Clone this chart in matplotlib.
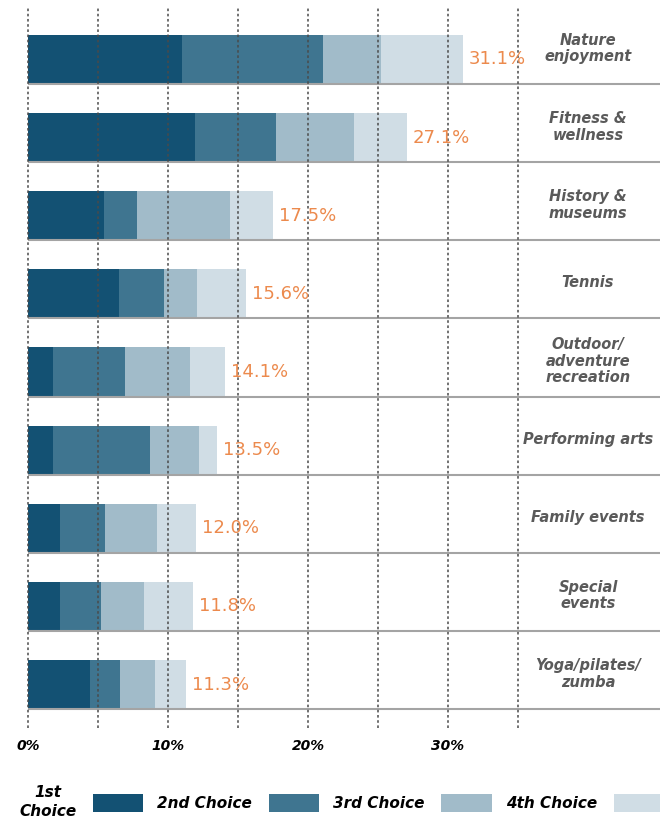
import matplotlib
matplotlib.use("Agg")
import matplotlib.pyplot as plt
from matplotlib.patches import Patch

# Activity interest, share of respondents by ranked choice
categories = [
    "Nature\nenjoyment",
    "Fitness &\nwellness",
    "History &\nmuseums",
    "Tennis",
    "Outdoor/\nadventure\nrecreation",
    "Performing arts",
    "Family events",
    "Special\nevents",
    "Yoga/pilates/\nzumba",
]
first_choice = [11.0, 11.9, 5.4, 6.5, 1.8, 1.8, 2.3, 2.3, 4.4]
second_choice = [10.1, 5.8, 2.4, 3.2, 5.1, 6.9, 3.2, 2.9, 2.2]
third_choice = [4.1, 5.6, 6.6, 2.4, 4.7, 3.5, 3.7, 3.1, 2.5]
fourth_choice = [5.9, 3.8, 3.1, 3.5, 2.5, 1.3, 2.8, 3.5, 2.2]
totals = [31.1, 27.1, 17.5, 15.6, 14.1, 13.5, 12.0, 11.8, 11.3]

series_labels = ["1st\nChoice", "2nd Choice", "3rd Choice", "4th Choice"]
tick_values = [0, 5, 10, 15, 20, 25, 30, 35]
tick_labels = ["0%", "", "10%", "", "20%", "", "30%", ""]

colors = ["#135173", "#3f7590", "#a1bbc9", "#d0dde5"]
label_orange = "#ec8a4d"
cat_gray = "#5a5a5a"

plt.rcParams["font.family"] = ["DejaVu Sans"]

fig = plt.figure(figsize=(6.6, 8.19), dpi=100)
ax = fig.add_axes([20 / 660, 1 - 728 / 819, 640 / 660, 720 / 819])

series = [first_choice, second_choice, third_choice, fourth_choice]
bar_h = 0.63
centers = [i + 1 - bar_h / 2 for i in range(len(categories))]

left = [0.0] * len(categories)
containers = []
for vals, col in zip(series, colors):
    c = ax.barh(centers, vals, height=bar_h, left=left, color=col,
                edgecolor="none", zorder=2)
    containers.append(c)
    left = [l + v for l, v in zip(left, vals)]

ax.bar_label(containers[-1], labels=[f"{t:.1f}%" for t in totals],
             padding=4, color=label_orange, fontsize=13)

xmax = (660 - 28) / 14
ax.set_xlim((20 - 28) / 14, xmax)
ax.set_ylim(9.24, 0.027)

# row separators under each bar
ax.hlines([i + 1 for i in range(len(categories))], 0, xmax,
          color="#a4a4a4", linewidth=1.5, zorder=2.5)

# activity names at the right
for c, cat in zip(centers, categories):
    ax.text(40, c - 0.14, cat, ha="center", va="center", fontsize=10.5,
            style="italic", fontweight="bold", color=cat_gray,
            linespacing=1.15)

ax.set_xticks(tick_values)
ax.set_xticklabels(tick_labels, fontsize=10, fontweight="bold",
                   style="italic", color="black")
ax.tick_params(axis="x", length=0, pad=8)
ax.set_yticks([])
ax.grid(axis="x", color="#4a4a4a", linestyle=(0, (1.7, 1.7)), linewidth=1.1)
ax.set_axisbelow(False)
for s in ax.spines.values():
    s.set_visible(False)

handles = [Patch(facecolor=col, edgecolor="none") for col in colors]
leg = fig.legend(handles, series_labels, loc="center left",
                 bbox_to_anchor=(19 / 660, 1 - 802 / 819), ncol=4,
                 frameon=False, markerfirst=False, borderpad=0,
                 borderaxespad=0, handlelength=3.3, handleheight=1.45,
                 handletextpad=1.1, columnspacing=0.9,
                 prop={"size": 11, "weight": "bold", "style": "italic"})
leg.get_texts()[0].set_multialignment("center")
leg.get_texts()[0].set_linespacing(1.3)

fig.savefig("out.png", dpi=100)
